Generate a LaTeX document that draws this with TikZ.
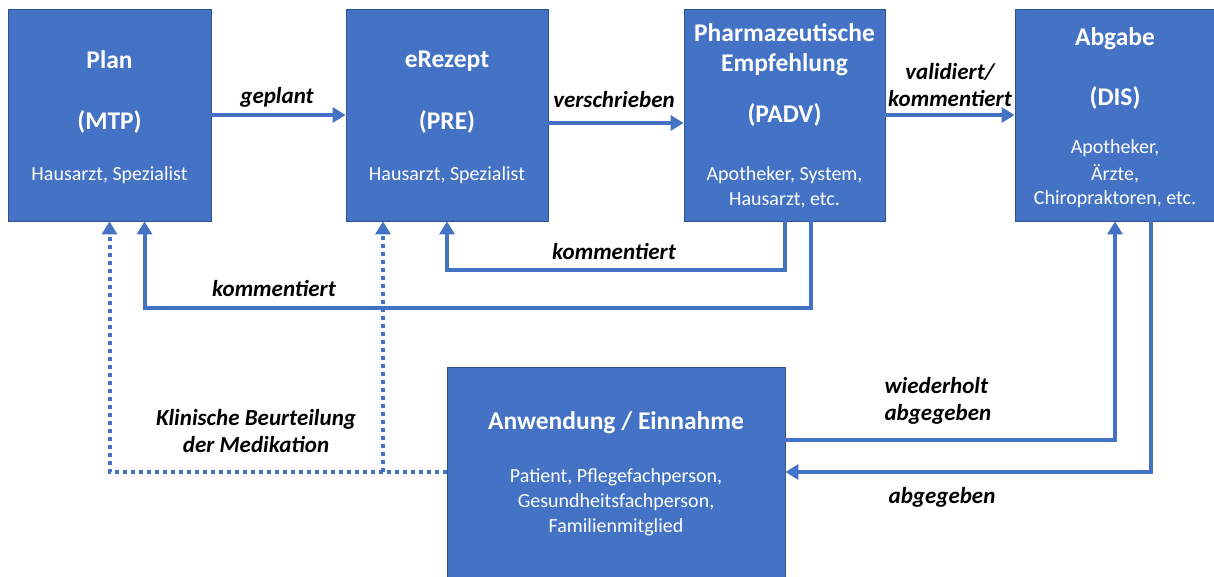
\documentclass[tikz,border=0pt]{standalone}
\usepackage{fontspec}
\setmainfont{Carlito}
\usetikzlibrary{arrows.meta}

\definecolor{boxblue}{HTML}{4472C4}
\definecolor{boxedge}{HTML}{2F528F}

\tikzset{
  box/.style={rectangle,draw=boxedge,line width=0.8pt,fill=boxblue,inner sep=0pt},
  head/.style={text=white,font=\fontsize{25.5}{30}\selectfont\bfseries},
  role/.style={text=white,font=\fontsize{20}{24}\selectfont},
  lbl/.style={text=black,align=center,font=\fontsize{23}{27}\selectfont\bfseries\itshape},
  flow/.style={draw=boxblue,line width=4pt,->},
  clin/.style={draw=boxblue,line width=4pt,->,dash pattern=on 4pt off 4pt},
}

\begin{document}
\begin{tikzpicture}[line join=miter,>={Triangle[width=15pt,length=13pt]},x=1pt,y=-1pt]
\useasboundingbox (0,0) rectangle (1214,576);
% boxes
\node[box,minimum width=203pt,minimum height=212pt] (plan) at (109.5,115) {};
\node[box,minimum width=202pt,minimum height=212pt] (pre) at (447,115) {};
\node[box,minimum width=201pt,minimum height=212pt] (padv) at (784.5,115) {};
\node[box,minimum width=200pt,minimum height=212pt] (dis) at (1115,115) {};
\node[box,minimum width=338pt,minimum height=210pt] (app) at (616,472) {};
% box texts
\node[head] (planT) at (109.5,60) {Plan};
\node[head] (planA) at (109.5,122) {(MTP)};
\node[role] (planR) at (109.5,175) {Hausarzt, Spezialist};
\node[head] (preT) at (447,61) {eRezept};
\node[head] (preA) at (447,122) {(PRE)};
\node[role] (preR) at (447,175) {Hausarzt, Spezialist};
\node[head] (padvT) at (784.5,33) {Pharmazeutische};
\node[head] (padvU) at (784.5,65) {Empfehlung};
\node[head] (padvA) at (784.5,115) {(PADV)};
\node[role] (padvR) at (784.5,175) {Apotheker, System,};
\node[role] (padvS) at (784.5,200) {Hausarzt, etc.};
\node[head] (disT) at (1115,39) {Abgabe};
\node[head] (disA) at (1115,98) {(DIS)};
\node[role] (disR) at (1115,148) {Apotheker,};
\node[role] (disS) at (1115,174) {Ärzte,};
\node[role] (disU) at (1115,199) {Chiropraktoren, etc.};
\node[head] (appT) at (616,423) {Anwendung / Einnahme};
\node[role,align=center,font=\fontsize{20}{25}\selectfont] (appR) at (616,502)
  {Patient, Pflegefachperson,\\Gesundheitsfachperson,\\Familienmitglied};
% levels of the feedback lines
\coordinate (lowA) at (0,270);
\coordinate (lowB) at (0,308);
\coordinate (jn) at ([xshift=-64pt]pre.south |- app.west);
% connectors
\draw[flow] (plan.east) -- (pre.west);
\draw[flow] ([yshift=-8pt]pre.east) -- ([yshift=-8pt]padv.west);
\draw[flow] (padv.east) -- (dis.west);
\draw[flow] (padv.south) -- (padv.south |- lowA) -| (pre.south);
\draw[flow] ([xshift=26pt]padv.south) -- ([xshift=26pt]padv.south |- lowB) -| ([xshift=35pt]plan.south);
\draw[clin] (app.west) -| (plan.south);
\draw[clin] (jn) -- ([xshift=-64pt]pre.south);
\draw[flow] ([yshift=32pt]app.east) -| (dis.south);
\draw[flow] ([xshift=36pt]dis.south) |- (app.east);
% labels
\node[lbl] (geplant) at (277,97) {geplant};
\node[lbl] (verschr) at (614,100) {verschrieben};
\node[lbl] (valid) at (950,85) {validiert/\\kommentiert};
\node[lbl] (kommA) at (614,252) {kommentiert};
\node[lbl] (kommB) at (274,289) {kommentiert};
\node[lbl] (klin) at (256,431) {Klinische Beurteilung\\der Medikation};
\node[lbl,align=left,anchor=west] (wied) at (881,401) {wiederholt\\abgegeben};
\node[lbl] (abgeg) at (942,497) {abgegeben};
\end{tikzpicture}
\end{document}
